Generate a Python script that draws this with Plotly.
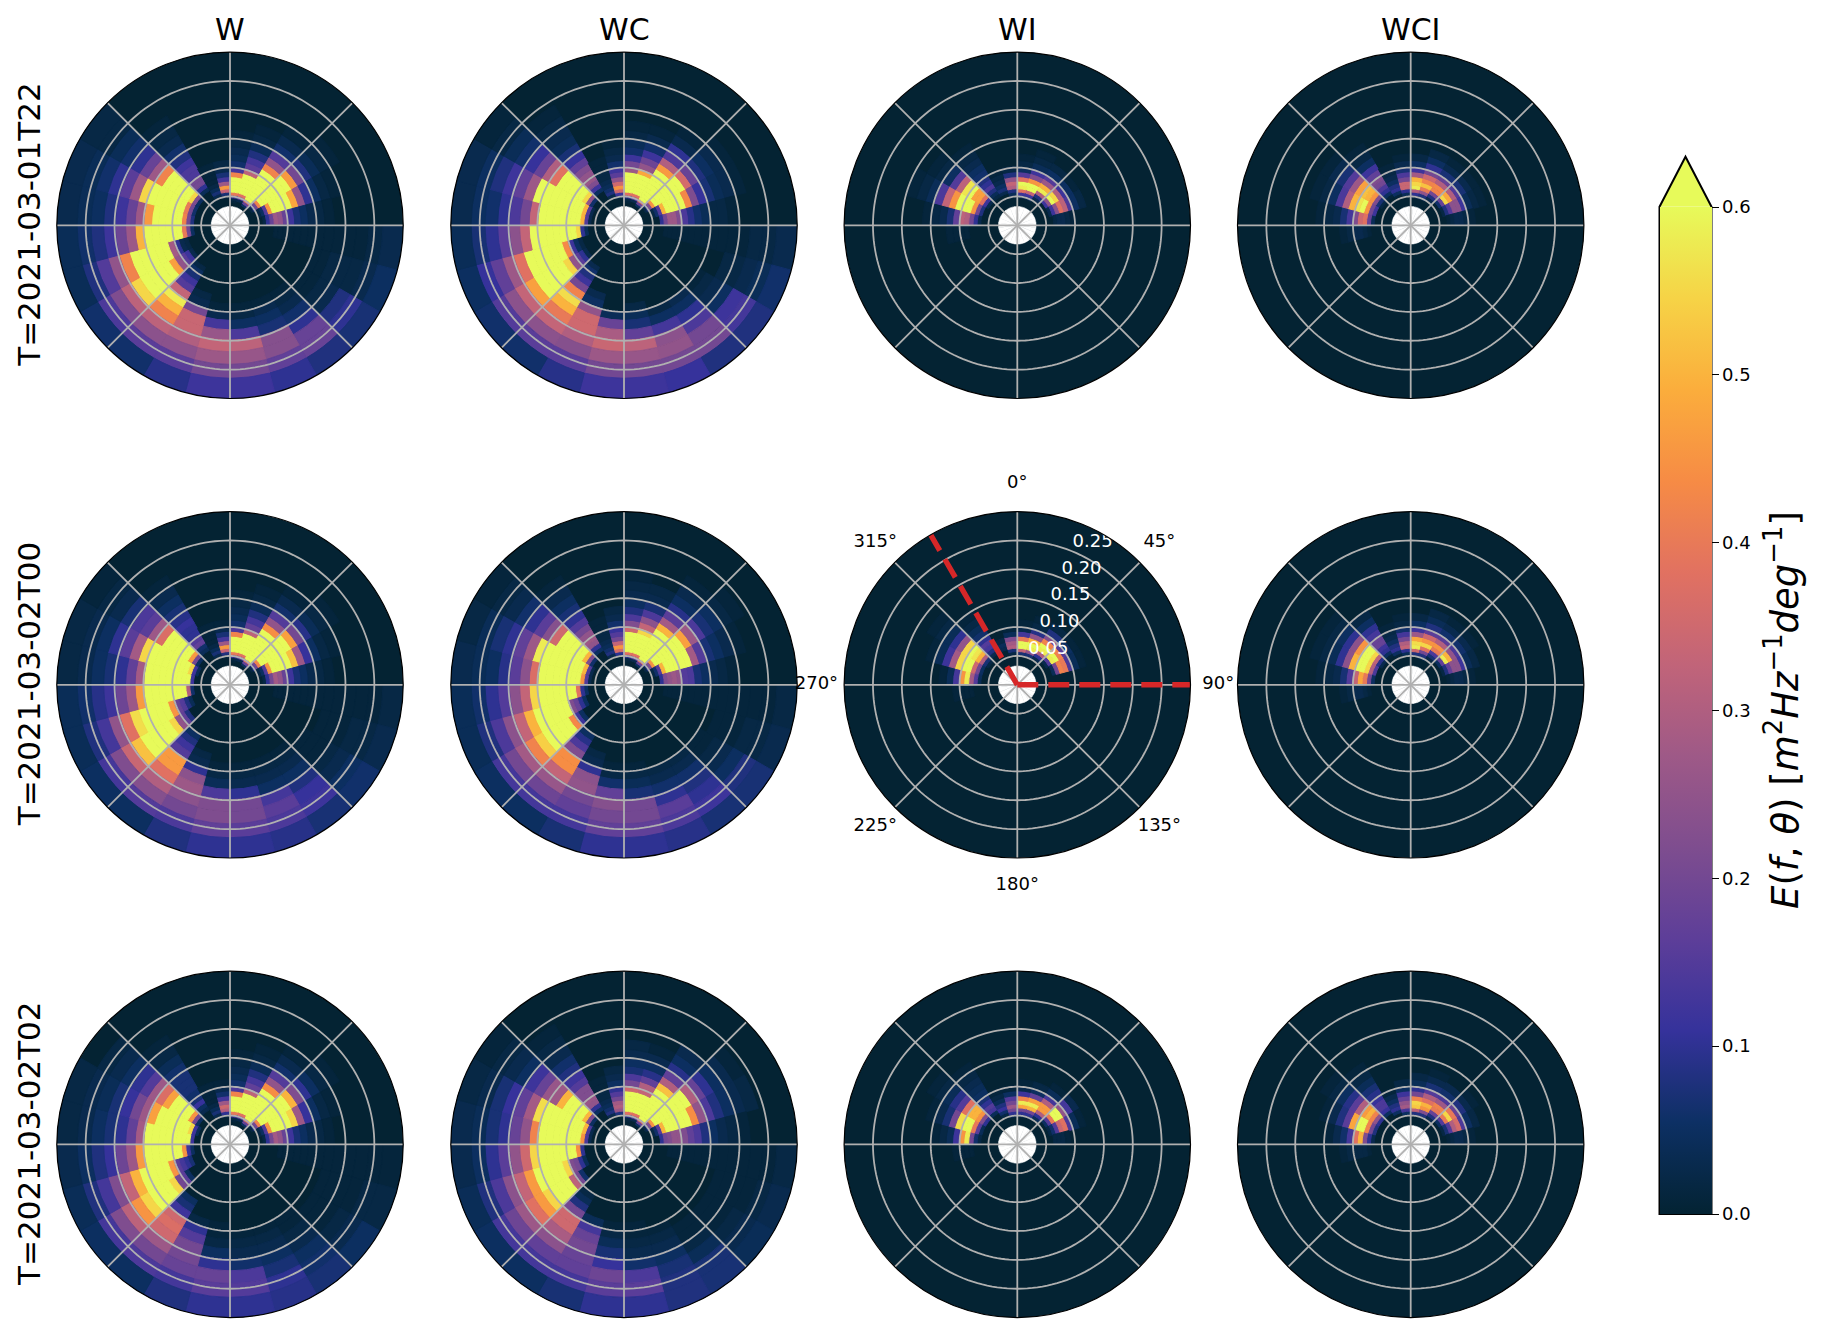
import plotly.graph_objects as go
from plotly.colors import sample_colorscale

# Ring edges of the frequency bins (radial axis) and sector width in degrees
RING_EDGES = [0.0326,0.0358,0.0394,0.0433,0.0477,0.0524,0.0577,0.0634,0.0698,0.0768,0.0844,0.0929,
              0.1022,0.1124,0.1236,0.1360,0.1496,0.1646,0.1810,0.1990,0.2190,0.2409,0.2650,0.3000]
SECTOR = 15
COLUMNS = ["W", "WC", "WI", "WCI"]
ROWS = ["T=2021-03-01T22", "T=2021-03-02T00", "T=2021-03-02T02"]
RAD_TICKS = [0.05, 0.10, 0.15, 0.20, 0.25]
ANG_TICKS = [0, 45, 90, 135, 180, 225, 270, 315]
CB_TICKS = [0.0, 0.1, 0.2, 0.3, 0.4, 0.5, 0.6]
VMAX = 0.6

# Each row: (sector index, first ring index, energy values x100 outward)
W_T22 = [
 (0,2,[1,2,12,40,60,60,60,60,42,13,6,4,3,2,1]),
 (1,3,[3,15,38,60,60,60,60,60,32,16,13,8,4,2,1]),
 (2,2,[5,18,38,60,60,60,60,60,60,60,60,42,25,15,6,3,1]),
 (3,3,[2,8,20,42,60,60,60,60,60,60,60,46,20,8,4,2,1]),
 (4,5,[2,5,15,45,60,60,60,60,48,25,10,5,2,1]),
 (5,6,[2,10,18,27,25,18,12,7,5,3,2,1]),
 (6,9,[1,1,1,1,1,1,1,1,1,1,1,1,2,3]),
 (7,16,[1,1,2,2,2,3,5]),
 (8,16,[1,1,2,3,8,10,7]),
 (9,15,[1,2,3,6,10,18,18,8]),
 (10,15,[1,3,5,7,23,23,17,10]),
 (11,15,[1,2,5,14,32,26,20,12]),
 (12,15,[1,3,13,26,33,27,20,12]),
 (13,14,[2,3,20,34,34,30,24,16,9]),
 (14,10,[2,5,7,12,15,33,58,50,42,32,24,16,6]),
 (15,9,[3,12,16,25,47,60,60,60,60,55,32,22,14,6]),
 (16,9,[2,3,10,28,60,60,60,60,60,42,25,15,8,4]),
 (17,7,[5,20,40,60,60,60,60,60,60,50,27,19,12,8,6,4]),
 (18,7,[8,20,42,60,60,60,60,60,46,27,18,12,8,5,4,3]),
 (19,7,[6,20,40,60,60,60,60,60,60,55,27,16,10,6,4,3]),
 (20,7,[5,22,55,60,60,60,60,60,42,27,18,10,6,4,2,2]),
 (21,8,[4,10,20,20,14,14,12,8,6,3,2,1]),
 (22,5,[3,7,4,2,1,1,1,1]),
 (23,4,[2,7,33,46,27,13,7,3,2]),
]
WC_T22 = [
 (0,2,[1,2,10,38,60,60,60,60,60,27,20,12,6,4,2,1]),
 (1,3,[3,15,38,60,60,60,60,60,48,25,19,12,6,3,1]),
 (2,2,[5,18,38,60,60,60,60,60,60,60,60,46,30,14,10,3,1]),
 (3,3,[2,8,22,45,60,60,60,60,60,60,60,36,18,8,5,3,1]),
 (4,5,[2,6,15,50,60,60,60,60,43,22,11,7,4,3,1]),
 (5,7,[10,20,27,27,22,14,9,6,4,2,2,1]),
 (6,8,[1,1,1,1,1,1,1,1,1,1,1,1,2,2,3]),
 (7,18,[2,2,3,4,6]),
 (8,16,[1,2,3,5,12,13,8]),
 (9,16,[3,5,10,14,20,20,8]),
 (10,16,[2,5,13,24,25,20,11]),
 (11,15,[2,4,7,17,32,26,20,12]),
 (12,16,[4,18,29,34,27,20,12]),
 (13,14,[3,5,25,35,35,30,23,16,9]),
 (14,10,[3,6,8,12,20,42,56,50,40,33,24,16,6]),
 (15,9,[3,10,16,25,55,60,60,60,60,47,33,24,15,6]),
 (16,9,[2,5,12,43,60,60,60,60,60,38,27,17,11,5]),
 (17,7,[4,10,55,60,60,60,60,60,60,60,33,24,16,10,7,4]),
 (18,6,[3,15,50,60,60,60,60,60,60,60,33,20,14,10,6,5,3]),
 (19,6,[3,15,50,60,60,60,60,60,60,60,60,27,17,12,8,5,3]),
 (20,7,[6,25,55,60,60,60,60,60,38,30,18,11,6,4,2,1]),
 (21,8,[5,12,22,26,25,22,17,11,7,4,3,2,1]),
 (22,5,[3,8,6,4,3,2,2,1,1]),
 (23,4,[2,12,35,45,35,25,16,12,6,3,2,1]),
]
WI_T22 = [
 (0,4,[3,12,38,58,60,38,15,5,2,1]),
 (1,4,[3,12,33,60,60,45,22,12,4,2,1]),
 (2,5,[3,8,30,58,50,27,15,5,2]),
 (3,6,[12,25,60,55,30,12,5,1]),
 (4,6,[3,12,24,38,32,14,5,2]),
 (5,7,[2,3,3,2,1]),
 (17,10,[1,1,1,1]),
 (18,7,[3,10,20,30,32,17,7,3,2,1]),
 (19,7,[8,20,45,60,60,60,45,33,14,4,2,1]),
 (20,6,[3,12,38,47,47,60,57,32,15,5,2,1]),
 (21,6,[2,4,8,14,10,8,6,5,3,2,1]),
 (22,6,[3,7,5,3,2,1]),
 (23,4,[1,4,8,30,33,25,8,2]),
]
WCI_T22 = [
 (0,4,[2,10,30,58,55,50,28,12,5,2]),
 (1,4,[2,8,25,40,52,42,35,20,10,5,2]),
 (2,5,[3,8,20,42,43,30,18,7,3,1]),
 (3,6,[6,18,55,48,30,15,7,3,1]),
 (4,6,[2,8,15,24,24,12,4,2,1]),
 (5,7,[1,2,3,3,2,1]),
 (17,8,[1,2,3,3,2,1]),
 (18,7,[4,18,38,35,22,13,7,3,2,1]),
 (19,7,[12,20,45,60,57,50,30,14,5,2,1]),
 (20,6,[2,7,22,45,50,52,47,27,15,7,3,1]),
 (21,6,[1,5,10,14,20,22,17,12,5,2,1]),
 (22,5,[1,5,10,8,5,3,2,1]),
 (23,5,[4,10,34,34,20,14,7,3,1]),
]
W_T00 = [
 (0,2,[1,2,12,40,60,60,60,60,42,14,6,4,3,2,1]),
 (1,3,[3,15,38,60,60,60,60,60,32,17,13,8,4,2,1]),
 (2,2,[5,18,38,60,60,60,60,60,60,60,60,44,25,15,6,3,1]),
 (3,3,[2,8,20,42,60,60,60,60,60,60,60,47,20,9,4,2,1]),
 (4,5,[2,5,15,45,60,60,60,60,52,27,11,5,2,1]),
 (5,6,[2,10,20,28,25,18,12,7,5,3,2,1]),
 (6,9,[1,1,1,1,1,1,1,1,1,1,1,1,1,2]),
 (7,17,[1,1,1,2,2,3]),
 (8,16,[1,1,1,2,3,5,6]),
 (9,15,[1,2,3,5,8,11,12,7]),
 (10,15,[1,2,3,5,13,16,14,9]),
 (11,15,[1,2,3,10,20,20,16,10]),
 (12,15,[1,2,4,14,22,22,17,10]),
 (13,14,[2,3,10,24,27,24,20,14,8]),
 (14,12,[5,8,12,15,46,46,38,30,23,15,5]),
 (15,10,[8,17,25,55,60,60,60,60,52,34,22,13,5]),
 (16,8,[4,8,15,18,45,60,60,60,60,56,38,25,13,8,4]),
 (17,7,[6,30,60,60,60,60,60,60,60,46,27,19,12,9,6,4]),
 (18,7,[12,60,60,60,60,60,60,60,60,28,17,10,7,5,3,2]),
 (19,6,[4,12,55,60,60,60,60,60,60,60,55,28,16,10,5,3,2]),
 (20,7,[5,20,46,60,60,60,60,60,37,27,16,14,7,3,2,1]),
 (21,8,[4,6,17,15,10,10,11,9,7,5,3,1]),
 (22,5,[3,7,4,2,1,1,1,1]),
 (23,4,[2,8,33,46,27,13,7,3,1]),
]
WC_T00 = [
 (0,2,[1,2,10,38,60,60,60,60,60,35,22,14,8,5,3,2,1]),
 (1,3,[3,15,38,60,60,60,60,60,55,33,24,14,7,3,2]),
 (2,2,[5,18,38,60,60,60,60,60,60,60,60,50,28,16,9,5,3,1]),
 (3,3,[2,8,22,45,60,60,60,60,60,60,60,47,27,14,7,5,2,1]),
 (4,5,[2,6,15,50,60,60,60,60,60,28,15,7,5,3,1]),
 (5,7,[10,22,25,27,25,15,14,7,5,3,2,1]),
 (6,8,[1,1,1,1,1,1,1,1,1,1,1,1,1,1,2]),
 (7,17,[1,1,1,2,2,3]),
 (8,16,[1,1,2,3,5,8,7]),
 (9,16,[2,3,6,8,10,12,7]),
 (10,16,[2,3,6,10,16,14,9]),
 (11,15,[1,2,4,7,20,20,17,10]),
 (12,15,[1,2,6,17,23,20,17,10]),
 (13,14,[2,3,10,24,25,20,17,13,7]),
 (14,12,[5,9,14,22,44,44,33,26,19,13,5]),
 (15,10,[5,12,43,60,60,60,60,54,42,28,20,13,5]),
 (16,8,[5,10,18,22,60,60,60,60,60,50,33,24,14,8,4]),
 (17,7,[5,10,38,60,60,60,60,60,60,55,33,24,15,10,6,4]),
 (18,6,[3,15,45,60,60,60,60,60,60,60,37,24,16,9,5,4,3]),
 (19,6,[3,15,50,60,60,60,60,60,60,60,58,27,17,10,7,4,2]),
 (20,7,[6,22,50,60,60,60,60,60,35,23,16,10,6,3,2,1]),
 (21,8,[5,10,25,27,25,20,15,10,7,5,3,1]),
 (22,5,[3,8,6,4,3,2,2,1,1]),
 (23,5,[10,36,45,33,20,15,11,6,3,2]),
]
WI_T00 = [
 (0,5,[7,33,60,60,40,13,3,1]),
 (1,5,[7,25,58,60,50,25,9,2,1]),
 (2,5,[3,10,30,58,60,42,22,8,2]),
 (3,6,[3,15,58,60,42,15,5,1]),
 (4,7,[4,20,42,40,14,4,1]),
 (17,9,[1,1,1,1]),
 (18,7,[4,15,28,58,45,13,4,1]),
 (19,7,[5,20,35,60,60,55,28,12,4,1]),
 (20,6,[2,7,30,50,57,60,55,25,10,4,2,1]),
 (21,7,[3,8,13,15,10,6,4,2,1]),
 (22,7,[3,4,2]),
 (23,5,[2,7,30,28,22,4,1]),
]
WCI_T00 = [
 (0,5,[8,35,58,56,48,27,12,5,2]),
 (1,4,[2,8,20,38,55,45,35,16,8,4,2]),
 (2,5,[2,7,14,40,45,30,16,6,3,1]),
 (3,6,[5,17,58,50,25,14,6,3,1]),
 (4,6,[2,8,17,24,24,12,4,2]),
 (5,7,[1,2,3,3,2,1]),
 (17,8,[1,2,3,3,2,1]),
 (18,7,[5,20,40,48,33,15,7,3,2,1]),
 (19,7,[14,30,55,60,60,50,24,10,4,2,1]),
 (20,6,[3,9,32,55,60,60,45,24,10,5,2,1]),
 (21,6,[1,5,10,12,18,18,13,10,5,2]),
 (22,5,[1,5,10,8,5,3,2,1]),
 (23,5,[4,10,33,30,20,13,6,2,1]),
]
W_T02 = [
 (0,2,[1,2,12,40,60,60,60,60,42,14,6,4,3,2,1]),
 (1,3,[3,15,38,60,60,60,60,60,32,17,13,8,4,2,1]),
 (2,2,[5,18,38,60,60,60,60,60,60,60,60,44,25,15,6,3,1]),
 (3,3,[2,8,20,42,60,60,60,60,60,60,60,50,22,10,5,2,1]),
 (4,5,[2,5,15,45,60,60,60,60,55,27,11,5,2,1]),
 (5,6,[2,10,20,28,25,18,12,7,5,3,2,1]),
 (6,10,[1,1,1,1,1,1,1,1,1,1,1,1,1]),
 (7,17,[1,1,1,1,2,2]),
 (8,17,[1,1,1,2,3,5]),
 (9,16,[1,1,2,3,5,6,7]),
 (10,16,[1,2,3,5,7,10,9]),
 (11,16,[1,2,3,6,14,15,10]),
 (12,15,[1,1,2,5,10,18,16,10]),
 (13,15,[2,10,15,20,20,18,13,8]),
 (14,13,[5,7,12,35,37,35,27,20,14,5]),
 (15,10,[5,16,20,55,60,60,60,55,45,32,22,13,5]),
 (16,8,[7,10,13,16,45,60,60,60,60,50,33,22,13,8,4]),
 (17,7,[5,12,45,60,60,60,60,60,60,46,27,19,11,8,5,3]),
 (18,7,[12,60,60,60,60,60,60,60,60,28,17,10,7,5,3,2]),
 (19,6,[4,12,55,60,60,60,60,60,60,47,27,20,11,7,4,3,2]),
 (20,7,[5,20,45,60,60,60,60,47,37,27,15,10,5,3,2]),
 (21,8,[3,5,11,7,6,7,7,7,6,4,2,1]),
 (22,5,[3,7,4,2,1,1,1,1]),
 (23,4,[2,10,30,35,27,13,6,3,1]),
]
WC_T02 = [
 (0,2,[1,2,10,38,60,60,60,60,60,35,20,14,7,5,3,2]),
 (1,3,[3,15,38,60,60,60,60,60,33,30,17,9,5,3,1]),
 (2,2,[5,18,38,60,60,60,60,60,60,60,60,52,30,17,9,5,3]),
 (3,3,[2,8,22,45,60,60,60,60,60,60,60,60,30,18,10,5,3,1]),
 (4,5,[2,6,15,50,60,60,60,60,60,44,25,14,8,5,3,2]),
 (5,7,[10,20,22,25,25,22,17,14,8,5,3,2,1]),
 (6,9,[1,1,1,1,1,1,1,1,1,1,1,1,1,2]),
 (7,17,[1,1,1,1,2,3]),
 (8,17,[1,1,1,2,3,4]),
 (9,17,[1,1,2,4,7,7]),
 (10,16,[1,2,3,5,7,8,8]),
 (11,15,[1,1,2,3,6,14,16,10]),
 (12,15,[1,2,4,7,11,19,16,10]),
 (13,15,[4,13,18,20,18,17,13,7]),
 (14,12,[2,4,8,20,35,35,29,24,17,13,5]),
 (15,10,[6,20,32,60,60,60,55,46,38,27,19,13,5]),
 (16,8,[4,10,20,22,55,60,60,60,60,46,33,24,14,8,4]),
 (17,8,[10,44,60,60,60,60,60,60,55,35,25,16,10,5,3]),
 (18,6,[3,14,45,60,60,60,60,60,60,60,42,25,18,10,7,4,3]),
 (19,6,[3,14,50,60,60,60,60,60,60,60,56,28,17,11,7,3,2]),
 (20,7,[5,22,50,60,60,60,60,50,27,26,18,12,5,3,2,1]),
 (21,8,[5,10,25,26,22,22,15,12,8,6,3,2,1]),
 (22,5,[3,8,6,4,3,2,2,1,1]),
 (23,5,[8,26,30,28,20,15,10,5,3,2]),
]
WI_T02 = [
 (0,4,[2,10,20,48,58,42,12,3,1]),
 (1,5,[10,20,50,58,47,17,5,2]),
 (2,5,[4,10,30,46,46,30,13,4,1]),
 (3,6,[5,15,40,60,60,25,13,3]),
 (4,6,[2,6,15,34,38,14,4,1]),
 (5,7,[2,2,2,1]),
 (17,9,[1,1,1,1]),
 (18,7,[2,6,20,58,45,12,4,2,1]),
 (19,7,[4,16,40,60,60,56,20,7,3,1]),
 (20,7,[10,22,45,50,50,38,15,9,4,2,1]),
 (21,7,[4,13,15,10,7,5,4,3,2,1]),
 (22,5,[2,6,11,8,4,2,1]),
 (23,4,[3,10,20,27,20,15,5,1]),
]
WCI_T02 = [
 (0,5,[8,32,53,55,42,20,10,4,2]),
 (1,5,[8,22,45,50,38,30,15,7,3,1]),
 (2,5,[3,8,18,40,42,27,14,6,3]),
 (3,6,[5,15,40,55,40,18,8,3,1]),
 (4,6,[2,7,15,30,36,14,5,2]),
 (5,7,[1,2,3,3,2,1]),
 (17,8,[1,2,2,2,2,1]),
 (18,7,[3,10,22,50,38,13,6,3,1]),
 (19,7,[8,20,42,60,60,48,16,8,3,1]),
 (20,7,[10,25,42,50,46,30,16,9,5,2,1]),
 (21,7,[5,11,14,14,11,9,7,4,2,1]),
 (22,6,[5,10,8,5,3,1]),
 (23,5,[5,13,28,25,18,12,5,2]),
]

PANELS = [[W_T22, WC_T22, WI_T22, WCI_T22],
          [W_T00, WC_T00, WI_T00, WCI_T00],
          [W_T02, WC_T02, WI_T02, WCI_T02]]

W, H = 1825, 1337
CX = [230.0, 624.0, 1017.3, 1410.7]
CY = [225.3, 684.8, 1144.4]
RAD = 173.2
CB_L, CB_R, CB_TOP, CB_BOT, CB_TIP = 1659.5, 1711.5, 206.7, 1214.0, 156.7
FONT = "DejaVu Sans"
GRID = "#b0b0b0"

fig = go.Figure()
layout = {}
first = True
for i, row in enumerate(PANELS):
    for j, data in enumerate(row):
        n = i * 4 + j + 1
        key = "polar" if n == 1 else f"polar{n}"
        sp = key
        thetas, bases, widths, vals = [], [], [], []
        for sector, start, values in data:
            for q, v in enumerate(values):
                ring = start + q
                thetas.append(sector * SECTOR + SECTOR / 2)
                bases.append(RING_EDGES[ring])
                widths.append(RING_EDGES[ring + 1] - RING_EDGES[ring])
                vals.append(v / 100)
        edge_colors = sample_colorscale("thermal", [min(v / VMAX, 1) for v in vals])
        marker = dict(color=vals, colorscale="thermal", cmin=0, cmax=VMAX,
                      line=dict(width=1, color=edge_colors))
        if first:
            marker.update(showscale=True, colorbar=dict(
                x=CB_L / W, xanchor="left", xpad=0,
                y=1 - CB_BOT / H, yanchor="bottom", ypad=0,
                len=(CB_BOT - CB_TOP) / H, lenmode="fraction",
                thickness=CB_R - CB_L, thicknessmode="pixels",
                tickvals=CB_TICKS, tickformat=".1f", ticks="outside", ticklen=7, tickwidth=1.3,
                tickcolor="black", outlinewidth=0,
                tickfont=dict(family=FONT, size=18, color="black")))
            first = False
        fig.add_trace(go.Barpolar(r=widths, base=bases, theta=thetas, width=[SECTOR] * len(vals),
                                  marker=marker, subplot=sp, showlegend=False, hoverinfo="skip"))
        # white centre
        fig.add_trace(go.Barpolar(r=[RING_EDGES[0]] * 24, base=[0] * 24,
                                  theta=[k * SECTOR for k in range(24)], width=[SECTOR + 0.5] * 24,
                                  marker=dict(color="white", line=dict(width=0.5, color="white")),
                                  subplot=sp, showlegend=False, hoverinfo="skip"))
        # grid drawn above the wedges
        ring_r, ring_t = [], []
        for rv in RAD_TICKS:
            ring_r += [rv] * 181 + [None]
            ring_t += list(range(0, 362, 2)) + [None]
        for a in ANG_TICKS:
            ring_r += [0, 0.3, None]
            ring_t += [a, a, None]
        fig.add_trace(go.Scatterpolar(r=ring_r, theta=ring_t, mode="lines",
                                      line=dict(color=GRID, width=1.8), subplot=sp,
                                      showlegend=False, hoverinfo="skip"))
        if i == 1 and j == 2:
            fig.add_trace(go.Scatterpolar(r=[0, 0.3, None, 0, 0.3], theta=[90, 90, None, 330, 330],
                                          mode="lines", subplot=sp, showlegend=False, hoverinfo="skip",
                                          line=dict(color="#d62728", width=5.4, dash="21px,10px")))
            fig.add_trace(go.Scatterpolar(r=RAD_TICKS, theta=[22.5] * len(RAD_TICKS), mode="text",
                                          text=[f"{v:.2f}" for v in RAD_TICKS], textposition="top right",
                                          textfont=dict(family=FONT, size=18, color="white"),
                                          subplot=sp, showlegend=False, hoverinfo="skip"))
        layout[key] = dict(
            domain=dict(x=[(CX[j] - RAD) / W, (CX[j] + RAD) / W],
                        y=[1 - (CY[i] + RAD) / H, 1 - (CY[i] - RAD) / H]),
            bgcolor="#042333",
            radialaxis=dict(range=[0, 0.3], showticklabels=False, showgrid=False, showline=False, ticks=""),
            angularaxis=dict(direction="clockwise", rotation=90, showticklabels=False, showgrid=False,
                             ticks="", showline=True, linecolor="black", linewidth=1.2),
        )

# Angular labels of the centre panel: a transparent, larger polar subplot on the same centre
LABEL_RANGE = 0.36
LABEL_R = 0.348
rad2 = RAD * LABEL_RANGE / 0.3
cx2, cy2 = CX[2], CY[1]
fig.add_trace(go.Scatterpolar(r=[LABEL_R] * len(ANG_TICKS), theta=ANG_TICKS, mode="text",
                              text=[f"{a}°" for a in ANG_TICKS], textposition="middle center",
                              cliponaxis=False, textfont=dict(family=FONT, size=18, color="black"),
                              subplot="polar13", showlegend=False, hoverinfo="skip"))
layout["polar13"] = dict(
    domain=dict(x=[(cx2 - rad2) / W, (cx2 + rad2) / W], y=[1 - (cy2 + rad2) / H, 1 - (cy2 - rad2) / H]),
    bgcolor="rgba(0,0,0,0)",
    radialaxis=dict(range=[0, LABEL_RANGE], visible=False),
    angularaxis=dict(direction="clockwise", rotation=90, visible=False),
)

anns = []
for j, name in enumerate(COLUMNS):
    anns.append(dict(text=name, x=CX[j] / W, y=1 - 30 / H, xref="paper", yref="paper", showarrow=False,
                     xanchor="center", yanchor="middle", font=dict(family=FONT, size=30, color="black")))
for i, name in enumerate(ROWS):
    anns.append(dict(text=name, x=29 / W, y=1 - (CY[i] - 0.5) / H, xref="paper", yref="paper", showarrow=False,
                     textangle=-90, xanchor="center", yanchor="middle",
                     font=dict(family=FONT, size=31, color="black")))
anns.append(dict(text="<i>E</i>(<i>f</i>, <i>θ</i>) [<i>m</i><sup>2</sup><i>Hz</i><sup>−1</sup><i>deg</i><sup>−1</sup>]",
                 x=1782 / W, y=1 - 710 / H, xref="paper", yref="paper", showarrow=False, textangle=-90,
                 xanchor="center", yanchor="middle", font=dict(family=FONT, size=37, color="black")))

px, py = lambda v: v / W, lambda v: 1 - v / H
tri = f"M {px(CB_L)},{py(CB_TOP)} L {px((CB_L+CB_R)/2)},{py(CB_TIP)} L {px(CB_R)},{py(CB_TOP)} Z"
box = (f"M {px(CB_L)},{py(CB_BOT)} L {px(CB_L)},{py(CB_TOP)} L {px((CB_L+CB_R)/2)},{py(CB_TIP)} "
       f"L {px(CB_R)},{py(CB_TOP)} L {px(CB_R)},{py(CB_BOT)} Z")
fig.update_layout(width=W, height=H, margin=dict(l=0, r=0, t=0, b=0), paper_bgcolor="white",
                  showlegend=False, annotations=anns,
                  shapes=[dict(type="path", path=tri, xref="paper", yref="paper",
                               fillcolor="#e7fa5a", line=dict(width=0)),
                          dict(type="path", path=box, xref="paper", yref="paper",
                               fillcolor="rgba(0,0,0,0)", line=dict(color="black", width=2))],
                  **layout)
fig.write_html("out.html", config={"displayModeBar": False},
               post_script="document.body.style.margin='0';")
